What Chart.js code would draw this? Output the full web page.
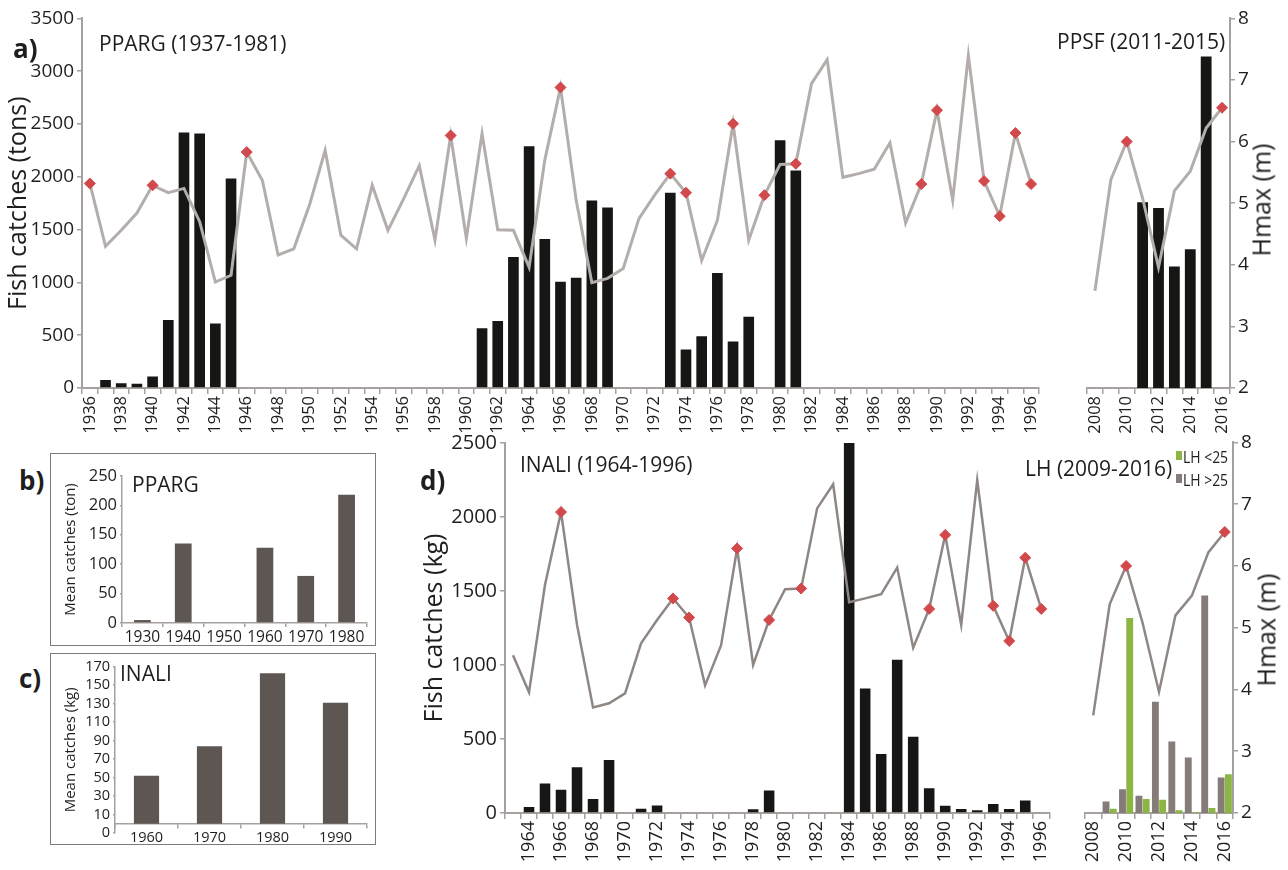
<!DOCTYPE html>
<html>
<head>
<meta charset="utf-8">
<script src="https://cdn.jsdelivr.net/npm/chart.js@4.4.1/dist/chart.umd.min.js"></script>
<style>
  body { margin:0; background:#fff; width:1288px; height:870px; position:relative; overflow:hidden;
         font-family:'Open Sans', sans-serif; color:#1e1e1e; }
  canvas, .txt, .box, .sw { position:absolute; }
  .txt { line-height:1; white-space:nowrap; }
  .box { border:1.5px solid #7c7c7c; box-sizing:border-box; }
  .lbl { font-weight:bold; font-size:26px; }
  .rot { transform:translate(-50%,-50%) rotate(-90deg); font-size:25px; }
  .leg { font-size:17px; transform:scaleX(0.82); transform-origin:left top; }
</style>
</head>
<body>
<div class="box" style="left:50px;top:453px;width:326px;height:193px"></div>
<div class="box" style="left:50px;top:653px;width:326px;height:192px"></div>

<canvas id="cA1" width="1053" height="432" style="left:0;top:4px"></canvas>
<canvas id="cA2" width="211" height="432" style="left:1077px;top:4px"></canvas>
<canvas id="cB" width="321" height="182" style="left:52px;top:463px"></canvas>
<canvas id="cC" width="321" height="194" style="left:52px;top:655px"></canvas>
<canvas id="cD1" width="645" height="437" style="left:420px;top:428px"></canvas>
<canvas id="cD2" width="213" height="437" style="left:1075px;top:428px"></canvas>

<div class="txt lbl" style="left:13px;top:35px">a)</div>
<div class="txt lbl" style="left:19px;top:467px">b)</div>
<div class="txt lbl" style="left:19px;top:665px">c)</div>
<div class="txt lbl" style="left:420px;top:467px">d)</div>
<div class="txt" style="left:99px;top:33px;font-size:21px">PPARG (1937-1981)</div>
<div class="txt" style="left:1057px;top:31px;font-size:21px">PPSF (2011-2015)</div>
<div class="txt" style="left:132px;top:474px;font-size:21px">PPARG</div>
<div class="txt" style="left:120px;top:663px;font-size:21px">INALI</div>
<div class="txt" style="left:520px;top:454px;font-size:21px">INALI (1964-1996)</div>
<div class="txt" style="left:1025px;top:458px;font-size:21px">LH (2009-2016)</div>
<div class="sw" style="left:1176px;top:451px;width:6px;height:9px;background:#8cb543"></div>
<div class="txt leg" style="left:1183px;top:448px">LH &lt;25</div>
<div class="sw" style="left:1176px;top:474px;width:6px;height:9px;background:#857b78"></div>
<div class="txt leg" style="left:1183px;top:471px">LH &gt;25</div>
<div class="txt rot" style="left:1261px;top:200px">Hmax (m)</div>
<div class="txt rot" style="left:1266px;top:630px">Hmax (m)</div>

<script>
// panel a, PPARG years
const yearsA = [
  '1936','1937','1938','1939','1940','1941','1942','1943','1944','1945',
  '1946','1947','1948','1949','1950','1951','1952','1953','1954','1955',
  '1956','1957','1958','1959','1960','1961','1962','1963','1964','1965',
  '1966','1967','1968','1969','1970','1971','1972','1973','1974','1975',
  '1976','1977','1978','1979','1980','1981','1982','1983','1984','1985',
  '1986','1987','1988','1989','1990','1991','1992','1993','1994','1995',
  '1996'
];
const hmaxA = [
  5.32, 4.30, 4.56, 4.84, 5.29, 5.17, 5.24, 4.70, 3.72, 3.83,
  5.83, 5.37, 4.16, 4.26, 4.97, 5.86, 4.48, 4.26, 5.29, 4.56,
  5.07, 5.61, 4.40, 6.10, 4.43, 6.13, 4.57, 4.56, 3.96, 5.70,
  6.88, 5.05, 3.71, 3.78, 3.94, 4.75, 5.13, 5.48, 5.17, 4.07,
  4.72, 6.29, 4.40, 5.13, 5.63, 5.64, 6.94, 7.33, 5.42, 5.48,
  5.55, 5.98, 4.68, 5.31, 6.51, 5.05, 7.40, 5.36, 4.79, 6.14,
  5.31
];
const catchPparg = [
  null, 75, 45, 40, 110, 645, 2420, 2410, 610, 1985,
  null, null, null, null, null, null, null, null, null, null,
  null, null, null, null, null, 565, 635, 1240, 2290, 1410,
  1005, 1045, 1775, 1710, null, null, null, 1850, 365, 490,
  1090, 440, 675, null, 2345, 2060, null, null, null, null,
  null, null, null, null, null, null, null, null, null, null,
  null
];

// recent years (PPSF / LH)
const yearsB = ['2008','2009','2010','2011','2012','2013','2014','2015','2016'];
const hmaxB = [3.58, 5.38, 6.00, 5.08, 3.96, 5.20, 5.52, 6.22, 6.55];
const catchPpsf = [null, null, null, 1760, 1705, 1150, 1315, 3140, null];
const lhOver25 = [null, 78, 161, 116, 751, 482, 374, 1468, 240];
const lhUnder25 = [null, 29, 1316, 94, 90, 18, 5, 34, 262];

// panel d, INALI
const yearsD = [
  '1963','1964','1965','1966','1967','1968','1969','1970','1971','1972',
  '1973','1974','1975','1976','1977','1978','1979','1980','1981','1982',
  '1983','1984','1985','1986','1987','1988','1989','1990','1991','1992',
  '1993','1994','1995','1996'
];
const catchInali = [
  null, 40, 200, 157, 309, 94, 358, null, 29, 51,
  5, null, null, null, null, 26, 152, null, null, null,
  null, 2500, 841, 399, 1036, 515, 168, 49, 27, 18,
  60, 27, 85, 5
];

// years marked with a red diamond
const peakYears = ['1936','1940','1946','1959','1966','1973','1974','1977','1979','1981',
  '1989','1990','1993','1994','1995','1996','2010','2016'];

// panels b and c
const decadesB = ['1930','1940','1950','1960','1970','1980'];
const meanPparg = [5, 135, null, 128, 80, 218];
const decadesC = ['1960','1970','1980','1990'];
const meanInali = [52, 84, 163, 131];
const ticksC = ['0','10','30','50','70','90','110','130','150','170'];

const INK = '#1e1e1e';
const GRID = '#a6a19e';
const RED = '#d2494b';
const PLAIN = { useGrouping: false };
Chart.defaults.font.family = "'Open Sans', sans-serif";
Chart.defaults.color = INK;

const hmaxD = hmaxA.slice(yearsA.indexOf('1963'));

function peaks(years, h) {
  return years.map((y, i) => peakYears.includes(y) ? h[i] : null);
}
function evenOnly(labels) {
  return (v, i) => Number(labels[i]) % 2 === 0 ? labels[i] : '';
}
function fixW(w) { return s => { s.width = w; }; }
function fixH(h) { return s => { s.height = h; }; }

function base(pad) {
  return {
    responsive: false, animation: false, events: [],
    layout: { padding: pad },
    plugins: { legend: { display: false }, tooltip: { enabled: false } }
  };
}
function yearAxis(labels, size, h) {
  return {
    offset: true,
    grid: { offset: true, drawOnChartArea: false, color: GRID, tickLength: 6, lineWidth: 1.5 },
    border: { color: GRID, width: 2 },
    ticks: { autoSkip: false, minRotation: 90, maxRotation: 90, padding: 2,
             font: { size: size }, color: INK, callback: evenOnly(labels) },
    afterFit: fixH(h)
  };
}
function hAxis(w) {
  return {
    position: 'right', min: 2, max: 8,
    ticks: { stepSize: 1, font: { size: 19 }, color: INK, padding: 3 },
    grid: { drawOnChartArea: false, color: GRID, tickLength: 5, lineWidth: 1.5 },
    border: { color: GRID, width: 2 },
    afterFit: fixW(w)
  };
}
function lineSets(years, h, color, width) {
  return [
    { type: 'line', data: peaks(years, h), yAxisID: 'h', showLine: false, pointStyle: 'rectRot',
      pointRadius: 5.5, backgroundColor: RED, borderColor: RED, order: 0 },
    { type: 'line', data: h, yAxisID: 'h', borderColor: color, borderWidth: width,
      pointRadius: 0, tension: 0, order: 1 }
  ];
}

// a) left part
new Chart(document.getElementById('cA1'), {
  type: 'bar',
  data: {
    labels: yearsA,
    datasets: [
      ...lineSets(yearsA, hmaxA, '#b3aeab', 3),
      { data: catchPparg, backgroundColor: '#161614', barPercentage: 0.68, categoryPercentage: 1, order: 2 }
    ]
  },
  options: Object.assign(base({ top: 14, right: 10, left: 0, bottom: 0 }), {
    scales: {
      x: yearAxis(yearsA, 16.5, 48),
      y: {
        min: 0, max: 3500,
        ticks: { stepSize: 500, font: { size: 19 }, color: INK, padding: 3, format: PLAIN },
        grid: { drawOnChartArea: false, color: GRID, tickLength: 5, lineWidth: 1.5 },
        border: { color: GRID, width: 2 },
        title: { display: true, text: 'Fish catches (tons)', font: { size: 25 }, color: INK, padding: { top: 4, bottom: 0 } },
        afterFit: fixW(82)
      },
      h: { position: 'right', display: false, min: 2, max: 8 }
    }
  })
});

// a) right part, PPSF
new Chart(document.getElementById('cA2'), {
  type: 'bar',
  data: {
    labels: yearsB,
    datasets: [
      ...lineSets(yearsB, hmaxB, '#b3aeab', 3),
      { data: catchPpsf, backgroundColor: '#161614', barPercentage: 0.68, categoryPercentage: 1, order: 2 }
    ]
  },
  options: Object.assign(base({ top: 14, right: 0, left: 10, bottom: 0 }), {
    scales: {
      x: yearAxis(yearsB, 16.5, 48),
      y: { display: false, min: 0, max: 3500 },
      h: hAxis(58)
    }
  })
});

// b) decade means PPARG
new Chart(document.getElementById('cB'), {
  type: 'bar',
  data: {
    labels: decadesB,
    datasets: [{ data: meanPparg, backgroundColor: '#5d5652', barPercentage: 0.41, categoryPercentage: 1 }]
  },
  options: Object.assign(base({ top: 12, right: 6, left: 0, bottom: 0 }), {
    scales: {
      x: {
        grid: { offset: true, drawOnChartArea: false, color: GRID, tickLength: 4, lineWidth: 1.5 },
        border: { color: GRID, width: 1.5 },
        ticks: { font: { size: 15.5 }, color: INK, padding: 1, maxRotation: 0 },
        afterFit: fixH(22)
      },
      y: {
        min: 0, max: 250,
        ticks: { stepSize: 50, font: { size: 16.5 }, color: INK, padding: 3 },
        grid: { drawOnChartArea: false, color: GRID, tickLength: 2, lineWidth: 1.5 },
        border: { color: GRID, width: 1.5 },
        title: { display: true, text: 'Mean catches (ton)', font: { size: 15 }, color: INK, padding: { top: 10, bottom: 0 } },
        afterFit: fixW(70)
      }
    }
  })
});

// c) decade means INALI
new Chart(document.getElementById('cC'), {
  type: 'bar',
  data: {
    labels: decadesC,
    datasets: [{ data: meanInali, backgroundColor: '#5d5652', barPercentage: 0.4, categoryPercentage: 1 }]
  },
  options: Object.assign(base({ top: 10, right: 6, left: 0, bottom: 16 }), {
    scales: {
      x: {
        position: { y: 0 },
        grid: { offset: true, drawOnChartArea: false, color: GRID, tickLength: 4, lineWidth: 1.5 },
        border: { color: GRID, width: 1.5 },
        ticks: { font: { size: 14.5 }, color: INK, padding: 1, maxRotation: 0 }
      },
      y: {
        min: -10, max: 170,
        ticks: { stepSize: 20, autoSkip: false, font: { size: 14.5 }, color: INK, padding: 3,
                 callback: (v, i) => ticksC[i] },
        grid: { drawOnChartArea: false, color: GRID, tickLength: 2, lineWidth: 1.5 },
        border: { color: GRID, width: 1.5 },
        title: { display: true, text: 'Mean catches (kg)', font: { size: 15 }, color: INK, padding: { top: 10, bottom: 0 } },
        afterFit: fixW(63)
      }
    }
  })
});

// d) left part, INALI
new Chart(document.getElementById('cD1'), {
  type: 'bar',
  data: {
    labels: yearsD,
    datasets: [
      ...lineSets(yearsD, hmaxD, '#8e8784', 2.5),
      { data: catchInali, backgroundColor: '#161614', barPercentage: 0.66, categoryPercentage: 1, order: 2 }
    ]
  },
  options: Object.assign(base({ top: 14, right: 10, left: 0, bottom: 0 }), {
    scales: {
      x: yearAxis(yearsD, 18, 52),
      y: {
        min: 0, max: 2500,
        ticks: { stepSize: 500, font: { size: 20 }, color: INK, padding: 3, format: PLAIN },
        grid: { drawOnChartArea: false, color: GRID, tickLength: 5, lineWidth: 1.5 },
        border: { color: GRID, width: 2 },
        title: { display: true, text: 'Fish catches (kg)', font: { size: 25 }, color: INK, padding: { top: 0, bottom: 0 } },
        afterFit: fixW(85)
      },
      h: { position: 'right', display: false, min: 2, max: 8 }
    }
  })
});

// d) right part, LH
new Chart(document.getElementById('cD2'), {
  type: 'bar',
  data: {
    labels: yearsB,
    datasets: [
      ...lineSets(yearsB, hmaxB, '#8e8784', 2.5),
      { data: lhOver25, backgroundColor: '#857b78', barPercentage: 0.95, categoryPercentage: 0.88, order: 2 },
      { data: lhUnder25, backgroundColor: '#8cb543', barPercentage: 0.95, categoryPercentage: 0.88, order: 2 }
    ]
  },
  options: Object.assign(base({ top: 14, right: 0, left: 10, bottom: 0 }), {
    scales: {
      x: yearAxis(yearsB, 18, 52),
      y: { display: false, min: 0, max: 2500 },
      h: hAxis(55)
    }
  })
});
</script>
</body>
</html>
